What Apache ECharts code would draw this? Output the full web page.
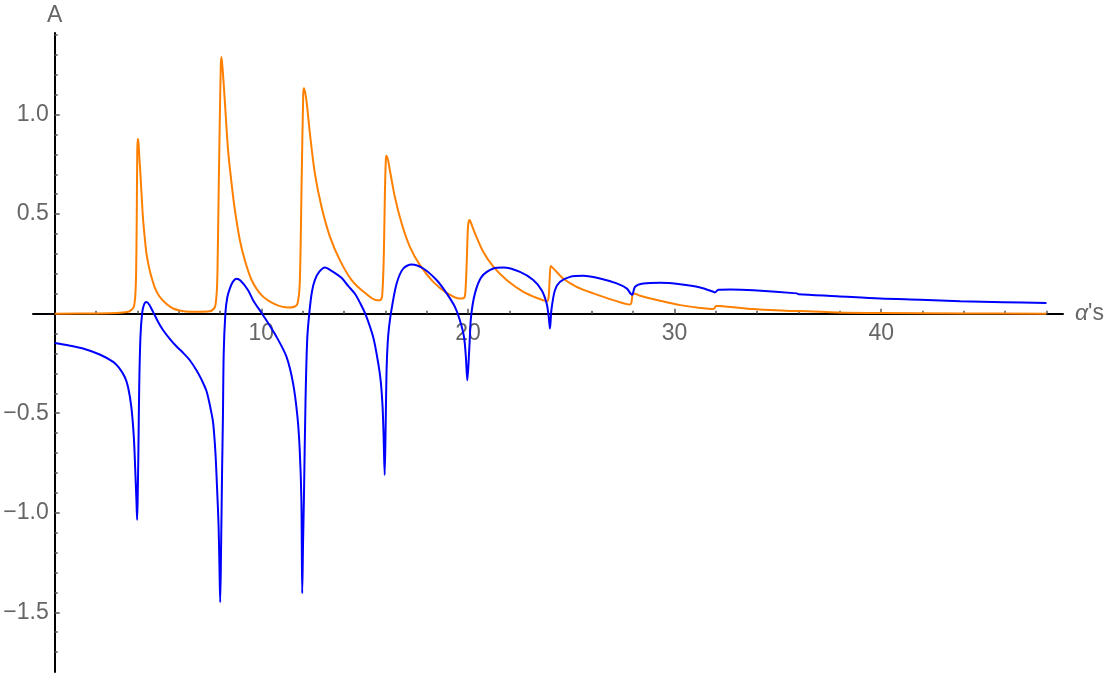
<!DOCTYPE html>
<html>
<head>
<meta charset="utf-8">
<script src="https://cdn.jsdelivr.net/npm/echarts@6/dist/echarts.min.js"></script>
<style>
html,body{margin:0;padding:0;background:#fff;}
#chart{width:1110px;height:674px;}
</style>
</head>
<body>
<div id="chart"></div>
<script>
// ---- data ----
const blueX = [0,0.7,1.37,2.18,2.83,3.1,3.39,3.55,3.71,3.83,3.90,3.96,3.99,4.02,4.05,4.09,4.15,4.23,4.32,4.44,4.58,4.76,5.0,5.25,5.6,5.9,6.2,6.54,6.86,7.1,7.35,7.55,7.67,7.78,7.86,7.93,7.97,8.01,8.05,8.10,8.14,8.18,8.26,8.35,8.47,8.62,8.8,9.0,9.36,9.6,10.1,10.74,11.22,11.54,11.75,11.86,11.94,11.98,12.02,12.06,12.14,12.22,12.32,12.45,12.59,12.8,13.08,13.4,13.88,14.2,14.53,14.8,15.05,15.42,15.66,15.78,15.87,15.92,15.97,16.02,16.06,16.12,16.19,16.3,16.55,16.87,17.27,17.84,18.48,18.97,19.37,19.61,19.81,19.9,19.97,20.07,20.15,20.34,20.66,21.23,21.71,22.52,23.16,23.57,23.81,23.91,23.97,24.04,24.21,24.46,24.94,25.58,26.39,27.2,27.68,27.88,27.95,28.09,28.49,29.3,30.27,31.24,31.88,31.95,32.12,32.69,33.82,35.92,36.0,37.85,39.95,41.89,43.83,45.92,48];
const blueY = [-0.147,-0.16,-0.175,-0.205,-0.242,-0.27,-0.318,-0.368,-0.469,-0.62,-0.788,-0.95,-1.036,-0.90,-0.70,-0.368,-0.117,0,0.045,0.059,0.045,0.009,-0.04,-0.083,-0.13,-0.165,-0.195,-0.234,-0.284,-0.33,-0.39,-0.48,-0.55,-0.70,-0.88,-1.06,-1.25,-1.45,-1.20,-0.80,-0.536,-0.2,0,0.08,0.125,0.16,0.175,0.165,0.118,0.068,-0.01,-0.117,-0.217,-0.351,-0.519,-0.687,-0.939,-1.405,-1.15,-0.94,-0.435,-0.133,0,0.11,0.169,0.21,0.232,0.215,0.18,0.14,0.1,0.05,-0.005,-0.12,-0.25,-0.34,-0.47,-0.62,-0.81,-0.55,-0.29,-0.14,-0.06,0.02,0.152,0.227,0.247,0.227,0.169,0.102,0.034,-0.033,-0.117,-0.217,-0.335,-0.167,-0.016,0.102,0.185,0.227,0.232,0.21,0.169,0.118,0.051,-0.016,-0.075,0.018,0.118,0.16,0.185,0.19,0.177,0.152,0.127,0.1,0.095,0.135,0.152,0.155,0.148,0.132,0.11,0.107,0.12,0.122,0.118,0.102,0.098,0.088,0.076,0.07,0.063,0.058,0.054];

const orangeX = [0,2,3,3.5,3.7,3.83,3.9,3.94,3.97,3.99,4.01,4.05,4.1,4.15,4.22,4.28,4.36,4.44,4.56,4.68,4.85,5.08,5.4,5.73,6.1,6.54,7.0,7.5,7.7,7.78,7.85,7.88,7.94,7.99,8.04,8.07,8.12,8.23,8.39,8.56,8.72,8.96,9.2,9.53,10.01,10.65,11.3,11.6,11.75,11.86,11.95,12.03,12.07,12.18,12.35,12.59,12.91,13.32,13.8,14.37,15.01,15.58,15.75,15.85,15.93,15.98,16.03,16.07,16.22,16.46,16.79,17.19,17.68,18.32,18.97,19.61,19.8,19.87,19.94,20.0,20.06,20.1,20.34,20.74,21.23,21.87,22.68,23.49,23.82,23.9,23.95,24.0,24.05,24.21,24.61,25.26,26.07,27.04,27.85,27.92,27.97,28.02,28.33,29.3,30.27,31.24,31.88,31.95,32.0,32.2,32.69,33.82,35.92,36.0,37.85,40,44,48];
const orangeY = [0,0.001,0.003,0.008,0.018,0.035,0.09,0.2,0.47,0.75,0.878,0.865,0.78,0.7,0.57,0.47,0.38,0.303,0.235,0.185,0.13,0.085,0.05,0.026,0.015,0.01,0.01,0.012,0.025,0.043,0.12,0.22,0.64,0.97,1.25,1.289,1.24,1.074,0.823,0.655,0.521,0.37,0.269,0.169,0.093,0.048,0.031,0.035,0.05,0.152,0.655,1.108,1.133,1.074,0.907,0.706,0.538,0.387,0.269,0.169,0.105,0.068,0.068,0.09,0.3,0.6,0.78,0.793,0.722,0.588,0.454,0.336,0.244,0.16,0.105,0.076,0.078,0.1,0.253,0.43,0.47,0.468,0.404,0.311,0.236,0.169,0.11,0.073,0.063,0.08,0.16,0.239,0.236,0.219,0.177,0.135,0.102,0.068,0.046,0.06,0.1,0.102,0.09,0.065,0.043,0.029,0.023,0.03,0.039,0.038,0.034,0.023,0.013,0.013,0.006,0.003,0.001,0];

const xMajorTicks = [10, 20, 30, 40];
const xMinorTicks = [2,4,6,8,12,14,16,18,22,24,26,28,32,34,36,38,42,44,46,48];
const yMajorTicks = [-1.5, -1.0, -0.5, 0.5, 1.0];
const yMinorTicks = [-1.7,-1.6,-1.4,-1.3,-1.2,-1.1,-0.9,-0.8,-0.7,-0.6,-0.4,-0.3,-0.2,-0.1,0.1,0.2,0.3,0.4,0.6,0.7,0.8,0.9,1.1,1.2,1.3,1.4];

const xName = "{i|α}'s";
const yName = "A";

// ---- chart ----
const FONT = "'Liberation Sans', Arial, sans-serif";
const LABEL_COLOR = '#666666';
const pairs = (xs, ys) => xs.map((x, i) => [x, ys[i]]);
const fmtY = v => (v < 0 ? '\u2212' : '') + Math.abs(v).toFixed(1);

const X_MIN = -1.05, X_MAX = 48.8, Y_MIN = -1.8, Y_MAX = 1.41;
const X_LABEL_GAP = 8, Y_LABEL_GAP = 6;

const chart = echarts.init(document.getElementById('chart'), null, {renderer: 'canvas'});
chart.setOption({
  animation: false,
  backgroundColor: '#ffffff',
  grid: {left: 33, right: 47, top: 33, bottom: 2, containLabel: false, outerBoundsMode: 'none'},
  xAxis: [
    {
      type: 'value', min: X_MIN, max: X_MAX, position: 'bottom',
      axisLine: {show: true, onZero: true, onZeroAxisIndex: 0, lineStyle: {color: '#000', width: 2}},
      axisTick: {show: true, inside: true, length: 5, customValues: xMajorTicks, lineStyle: {color: '#555', width: 1.5}},
      axisLabel: {show: true, customValues: xMajorTicks, margin: X_LABEL_GAP, fontSize: 23, fontFamily: FONT, color: LABEL_COLOR},
      splitLine: {show: false},
      name: xName, nameLocation: 'end', nameGap: 12,
      nameTextStyle: {
        fontSize: 23, fontFamily: FONT, color: LABEL_COLOR, verticalAlign: 'middle', align: 'left',
        rich: {i: {fontSize: 23, fontFamily: FONT, color: LABEL_COLOR, fontStyle: 'italic'}}
      }
    },
    {
      type: 'value', min: X_MIN, max: X_MAX, position: 'bottom',
      axisLine: {show: false, onZero: true, onZeroAxisIndex: 0},
      axisTick: {show: true, inside: true, length: 3, customValues: xMinorTicks, lineStyle: {color: '#555', width: 1.5}},
      axisLabel: {show: false},
      splitLine: {show: false}
    }
  ],
  yAxis: [
    {
      type: 'value', min: Y_MIN, max: Y_MAX, position: 'left',
      axisLine: {show: true, onZero: true, onZeroAxisIndex: 0, lineStyle: {color: '#000', width: 2}},
      axisTick: {show: true, inside: true, length: 5, customValues: yMajorTicks, lineStyle: {color: '#555', width: 1.5}},
      axisLabel: {show: true, customValues: yMajorTicks, margin: Y_LABEL_GAP, fontSize: 23, fontFamily: FONT, color: LABEL_COLOR, formatter: fmtY},
      splitLine: {show: false},
      name: yName, nameLocation: 'end', nameGap: 6,
      nameTextStyle: {fontSize: 23, fontFamily: FONT, color: LABEL_COLOR, align: 'center'}
    },
    {
      type: 'value', min: Y_MIN, max: Y_MAX, position: 'left',
      axisLine: {show: false, onZero: true, onZeroAxisIndex: 0},
      axisTick: {show: true, inside: true, length: 3, customValues: yMinorTicks, lineStyle: {color: '#555', width: 1.5}},
      axisLabel: {show: false},
      splitLine: {show: false}
    }
  ],
  series: [
    {
      type: 'line', xAxisIndex: 0, yAxisIndex: 0, data: pairs(orangeX, orangeY),
      showSymbol: false, symbol: 'none', smooth: 0.3, clip: true,
      lineStyle: {color: '#FF8000', width: 2}, z: 3
    },
    {
      type: 'line', xAxisIndex: 0, yAxisIndex: 0, data: pairs(blueX, blueY),
      showSymbol: false, symbol: 'none', smooth: 0.3, clip: true,
      lineStyle: {color: '#0000FF', width: 2}, z: 4
    }
  ]
});

// Axis labels of an on-zero axis stay at the grid edge in ECharts; pull them
// back next to the crossing axis lines using the library's own scales.
const zeroYpx = chart.convertToPixel({yAxisIndex: 0}, 0);
const bottomPx = chart.convertToPixel({yAxisIndex: 0}, Y_MIN);
const zeroXpx = chart.convertToPixel({xAxisIndex: 0}, 0);
const leftPx = chart.convertToPixel({xAxisIndex: 0}, X_MIN);
chart.setOption({
  xAxis: [{axisLabel: {margin: X_LABEL_GAP - (bottomPx - zeroYpx)}}, {}],
  yAxis: [{axisLabel: {margin: Y_LABEL_GAP - (zeroXpx - leftPx)}}, {}]
});
</script>
</body>
</html>
